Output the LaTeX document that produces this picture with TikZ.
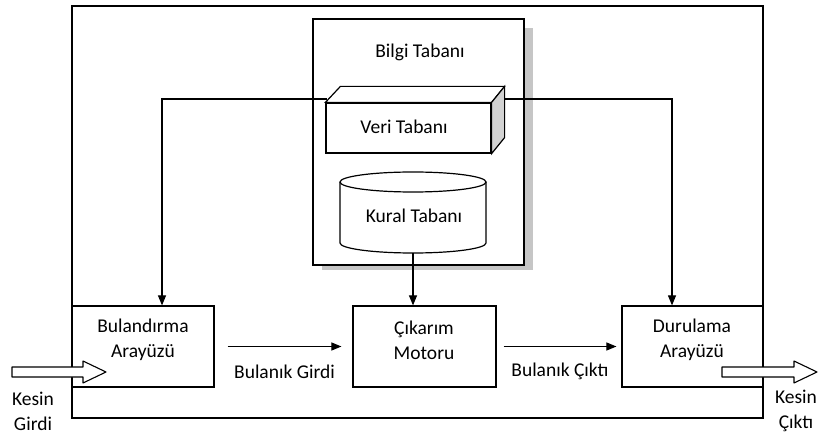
\documentclass[tikz,border=0pt]{standalone}
\usepackage{fontspec}
\setmainfont{Carlito}
\usepackage{tikz}
\usetikzlibrary{arrows.meta,calc}
\tikzset{kutu/.style={draw, line width=1.2pt, fill=white, minimum width=142pt, minimum height=81pt, inner sep=0pt}}
\tikzset{yazi/.style={align=center, font=\fontsize{19.5}{25}\selectfont, inner sep=0pt}}
\tikzset{ok/.style={line width=1.1pt, -{Triangle[length=10pt,width=8pt]}}}
\tikzset{hat/.style={line width=1.2pt}}
\tikzset{bosok/.style={draw, line width=1.1pt, fill=white, line join=round}}

\begin{document}
\begin{tikzpicture}[x=1pt,y=-1pt]
\useasboundingbox (0,0) rectangle (819,438);
\draw[hat] (72,6) rectangle (763,418);

% bilgi tabani
\fill[gray!45] (322,28) rectangle (533,270);
\node[kutu, minimum width=211pt, minimum height=246pt] (bilgi) at (418.5,142) {};
\node[yazi] (bilgiyazi) at (420,52) {Bilgi Tabanı};

% veri tabani
\node[kutu, minimum width=165pt, minimum height=50pt] (veri) at (408.5,128) {};
\draw[hat, fill=white] (veri.north west) -- ++(15,-16) -- ($(veri.north east)+(13,-16)$) -- (veri.north east) -- cycle;
\draw[hat, fill=gray!35] (veri.north east) -- ++(13,-16) -- ($(veri.south east)+(13,-16)$) -- (veri.south east) -- cycle;
\node[yazi] (veriyazi) at (404,127) {Veri Tabanı};

% kural tabani
\draw[hat, fill=white] (340,182) -- (340,243) arc[start angle=180, end angle=360, x radius=73pt, y radius=10pt] -- (486,182);
\draw[hat] (413,182) ellipse [x radius=73pt, y radius=10pt];
\node[yazi] (kural) at (414,216) {Kural Tabanı};
\coordinate (kuralalt) at (413,253);

% kutular
\node[kutu] (bul) at (143,346.5) {};
\node[kutu, minimum width=143pt] (cik) at (424.5,346.5) {};
\node[kutu, minimum width=141pt] (dur) at (692.5,346.5) {};
\node[yazi] (bulyazi) at (143,340) {Bulandırma\\Arayüzü};
\node[yazi] (cikyazi) at (424,340) {Çıkarım\\Motoru};
\node[yazi] (duryazi) at (692,340) {Durulama\\Arayüzü};

% baglantilar
\coordinate (vsol) at (327,99);
\coordinate (vsag) at (504,99);
\draw[ok] (vsol) -| ([xshift=19pt]bul.north);
\draw[ok] (vsag) -| ([xshift=-20.5pt]dur.north);
\draw[ok] (kuralalt) -- (kuralalt |- cik.north);
\draw[ok] ([xshift=13pt]bul.east) -- ([xshift=-11pt]cik.west)
  node[yazi, midway, yshift=-25pt] (bgirdi) {Bulanık Girdi};
\draw[ok] ([xshift=7pt]cik.east) -- ([xshift=-5pt]dur.west)
  node[yazi, midway, yshift=-25pt] (bcikti) {Bulanık Çıktı};

% kesin girdi / cikti
\draw[bosok] (12,367) -- (83,367) -- (83,361) -- (106,372) -- (83,383) -- (83,377) -- (12,377) -- cycle;
\node[yazi] (kgirdi) at (33,411) {Kesin\\Girdi};
\draw[bosok] (722,367) -- (794,367) -- (794,361) -- (817,372) -- (794,383) -- (794,377) -- (722,377) -- cycle;
\node[yazi] (kcikti) at (796,411) {Kesin\\Çıktı};
\end{tikzpicture}
\end{document}
